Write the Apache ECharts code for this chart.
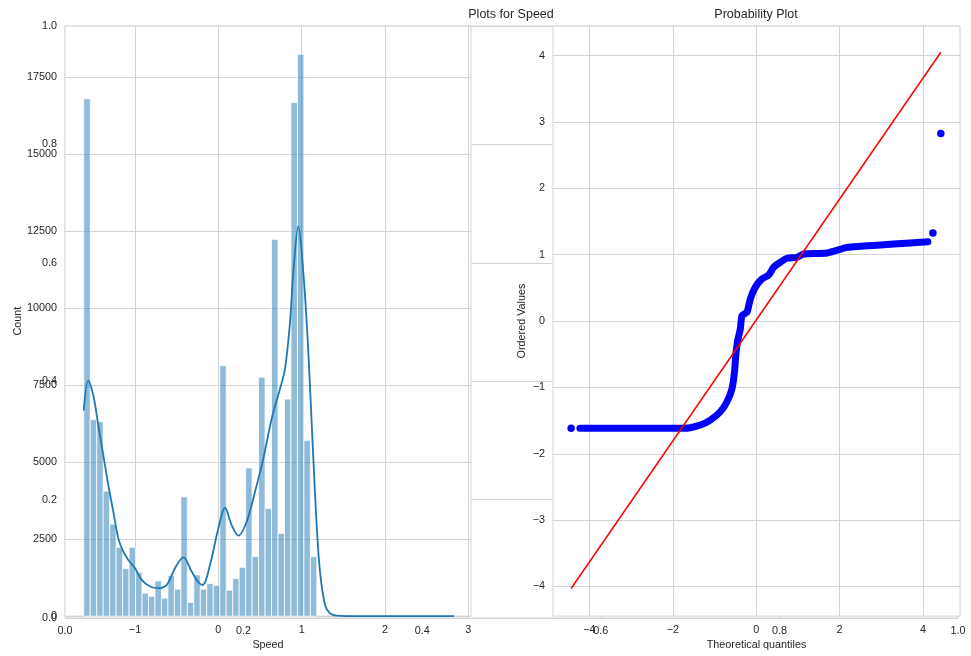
<!DOCTYPE html>
<html><head><meta charset="utf-8">
<script src="https://cdn.jsdelivr.net/npm/echarts@6/dist/echarts.min.js"></script>
<style>html,body{margin:0;padding:0;background:#fff}#c{width:971px;height:656px}</style>
</head><body><div id="c"></div>
<script>
// ---------- data ----------
const binStart = -1.615;
const binWidth = 0.0777;
const binCounts = [16789,6372,6318,4054,2987,2232,1542,2232,1423,744,647,1142,582,1315,873,3871,442,1337,873,1057,1003,8129,841,1219,1585,4810,1931,7754,3494,12227,2685,7042,16669,18234,5703,1931];

const kdeX = [-1.615,-1.56,-1.50,-1.44,-1.38,-1.32,-1.26,-1.20,-1.14,-1.08,-1.0,-0.92,-0.82,-0.72,-0.62,-0.52,-0.42,-0.32,-0.24,-0.19,-0.10,0.0,0.08,0.16,0.24,0.34,0.44,0.54,0.64,0.74,0.80,0.86,0.90,0.96,1.02,1.06,1.09,1.14,1.18,1.22,1.28,1.34,1.42,1.6,2.0,2.4,2.827];
const kdeY = [6673,7644,7159,6188,5218,4247,3386,2523,2093,1821,1553,1174,961,906,1013,1553,1908,1446,1100,1010,1660,2847,3516,2953,2610,3063,4034,5111,6405,7375,8022,9533,11150,12658,11150,9533,8022,5111,2953,1446,366,90,15,0,0,0,0];

const qqX = [-4.23,-3.5,-2.5,-1.75,-1.58,-1.34,-1.10,-0.86,-0.70,-0.58,-0.52,-0.49,-0.45,-0.38,-0.34,-0.22,-0.14,-0.02,0.14,0.30,0.42,0.58,0.74,0.98,1.14,1.70,2.18,2.50,3.30,4.12];
const qqY = [-1.617,-1.617,-1.617,-1.615,-1.607,-1.567,-1.492,-1.367,-1.216,-1.017,-0.766,-0.516,-0.316,-0.116,0.084,0.135,0.335,0.511,0.635,0.695,0.811,0.886,0.946,0.961,1.01,1.025,1.11,1.126,1.16,1.195];
const qqOutX = [-4.44, 4.24, 4.43];
const qqOutY = [-1.617, 1.326, 2.827];
const fitX = [-4.44, 4.43];
const fitY = [-4.03, 4.05];

const bgTicks = [0, 0.2, 0.4, 0.6, 0.8, 1.0];
const speedTicks = [-1, 0, 1, 2, 3];
const countTicks = [0, 2500, 5000, 7500, 10000, 12500, 15000, 17500];
const qTicks = [-4, -2, 0, 2, 4];
const ordTicks = [-4, -3, -2, -1, 0, 1, 2, 3, 4];

// ---------- styles ----------
const FONT = '"Liberation Sans", Arial, sans-serif';
const TXT = '#262626';
const GRIDC = '#d4d4d4';
const minus = v => (v < 0 ? '\u2212' + Math.abs(v) : String(v));
const labelStyle = {color: TXT, fontSize: 10.8, fontFamily: FONT, margin: 8};
const nameStyle = {color: TXT, fontSize: 10.8, fontFamily: FONT};

function axis(opt) {
  const base = {
    type: 'value',
    axisLine: {show: false},
    axisTick: {show: false, customValues: opt.ticks},
    splitLine: {show: true, lineStyle: {color: GRIDC, width: 1}},
    axisLabel: Object.assign({customValues: opt.ticks, formatter: opt.fmt}, labelStyle),
    nameTextStyle: nameStyle
  };
  delete opt.ticks; delete opt.fmt;
  return Object.assign(base, opt);
}

const bars = binCounts.map((c, i) => [binStart + i * binWidth, binStart + (i + 1) * binWidth, c]);
const kde = kdeX.map((x, i) => [x, kdeY[i]]);
const qq = qqX.map((x, i) => [x, qqY[i]]);
const qqOut = qqOutX.map((x, i) => [x, qqOutY[i]]);
const fit = fitX.map((x, i) => [x, fitY[i]]);

const chart = echarts.init(document.getElementById('c'), null, {renderer: 'canvas'});
chart.setOption({
  animation: false,
  backgroundColor: '#fff',
  title: [
    {text: 'Plots for Speed', left: 511, top: 8, padding: 0, textAlign: 'center',
     textStyle: {fontSize: 12.5, fontWeight: 'normal', color: TXT, fontFamily: FONT}},
    {text: 'Probability Plot', left: 756, top: 8, padding: 0, textAlign: 'center',
     textStyle: {fontSize: 12.5, fontWeight: 'normal', color: TXT, fontFamily: FONT}}
  ],
  grid: [
    {left: 65, right: 13, top: 26, bottom: 38, show: true, backgroundColor: '#fff', borderColor: GRIDC, borderWidth: 1, z: 0},
    {left: 65, width: 406, top: 26, bottom: 38, show: true, backgroundColor: '#fff', borderColor: GRIDC, borderWidth: 1, z: 1},
    {left: 553, right: 11, top: 26, bottom: 38, show: true, backgroundColor: '#fff', borderColor: GRIDC, borderWidth: 1, z: 1}
  ],
  xAxis: [
    axis({gridIndex: 0, min: 0, max: 1, ticks: bgTicks, fmt: v => v.toFixed(1), z: 0}),
    axis({gridIndex: 1, min: -1.84, max: 3.032, ticks: speedTicks, fmt: minus, z: 1,
          name: 'Speed', nameLocation: 'middle', nameGap: 22}),
    axis({gridIndex: 2, min: -4.875, max: 4.89, ticks: qTicks, fmt: minus, z: 1,
          name: 'Theoretical quantiles', nameLocation: 'middle', nameGap: 22})
  ],
  yAxis: [
    axis({gridIndex: 0, min: 0, max: 1, ticks: bgTicks, fmt: v => v.toFixed(1), z: 0}),
    axis({gridIndex: 1, min: 0, max: 19150, ticks: countTicks, fmt: v => String(v), z: 1,
          name: 'Count', nameLocation: 'middle', nameGap: 41}),
    axis({gridIndex: 2, min: -4.446, max: 4.446, ticks: ordTicks, fmt: minus, z: 1,
          name: 'Ordered Values', nameLocation: 'middle', nameGap: 25})
  ],
  series: [
    {
      type: 'custom', xAxisIndex: 1, yAxisIndex: 1, z: 2,
      data: bars, encode: {x: [0, 1], y: 2},
      renderItem: (params, api) => {
        const p0 = api.coord([api.value(0), api.value(2)]);
        const p1 = api.coord([api.value(1), 0]);
        return {type: 'rect', shape: {x: p0[0], y: p0[1], width: p1[0] - p0[0], height: p1[1] - p0[1]},
                style: {fill: 'rgba(31,119,180,0.5)', stroke: '#ffffff', lineWidth: 0.8}};
      }
    },
    {
      type: 'line', xAxisIndex: 1, yAxisIndex: 1, z: 3, data: kde, smooth: 0.35,
      showSymbol: false, lineStyle: {color: '#1f77b4', width: 1.8}
    },
    {
      type: 'line', xAxisIndex: 2, yAxisIndex: 2, z: 3, data: qq, smooth: 0.2,
      showSymbol: false, lineStyle: {color: '#0000ff', width: 7, cap: 'round', join: 'round'}
    },
    {
      type: 'scatter', xAxisIndex: 2, yAxisIndex: 2, z: 3, data: qqOut,
      symbolSize: 7.5, itemStyle: {color: '#0000ff', opacity: 1}
    },
    {
      type: 'line', xAxisIndex: 2, yAxisIndex: 2, z: 4, data: fit,
      showSymbol: false, lineStyle: {color: '#ff0000', width: 1.5}
    }
  ]
});
</script></body></html>
